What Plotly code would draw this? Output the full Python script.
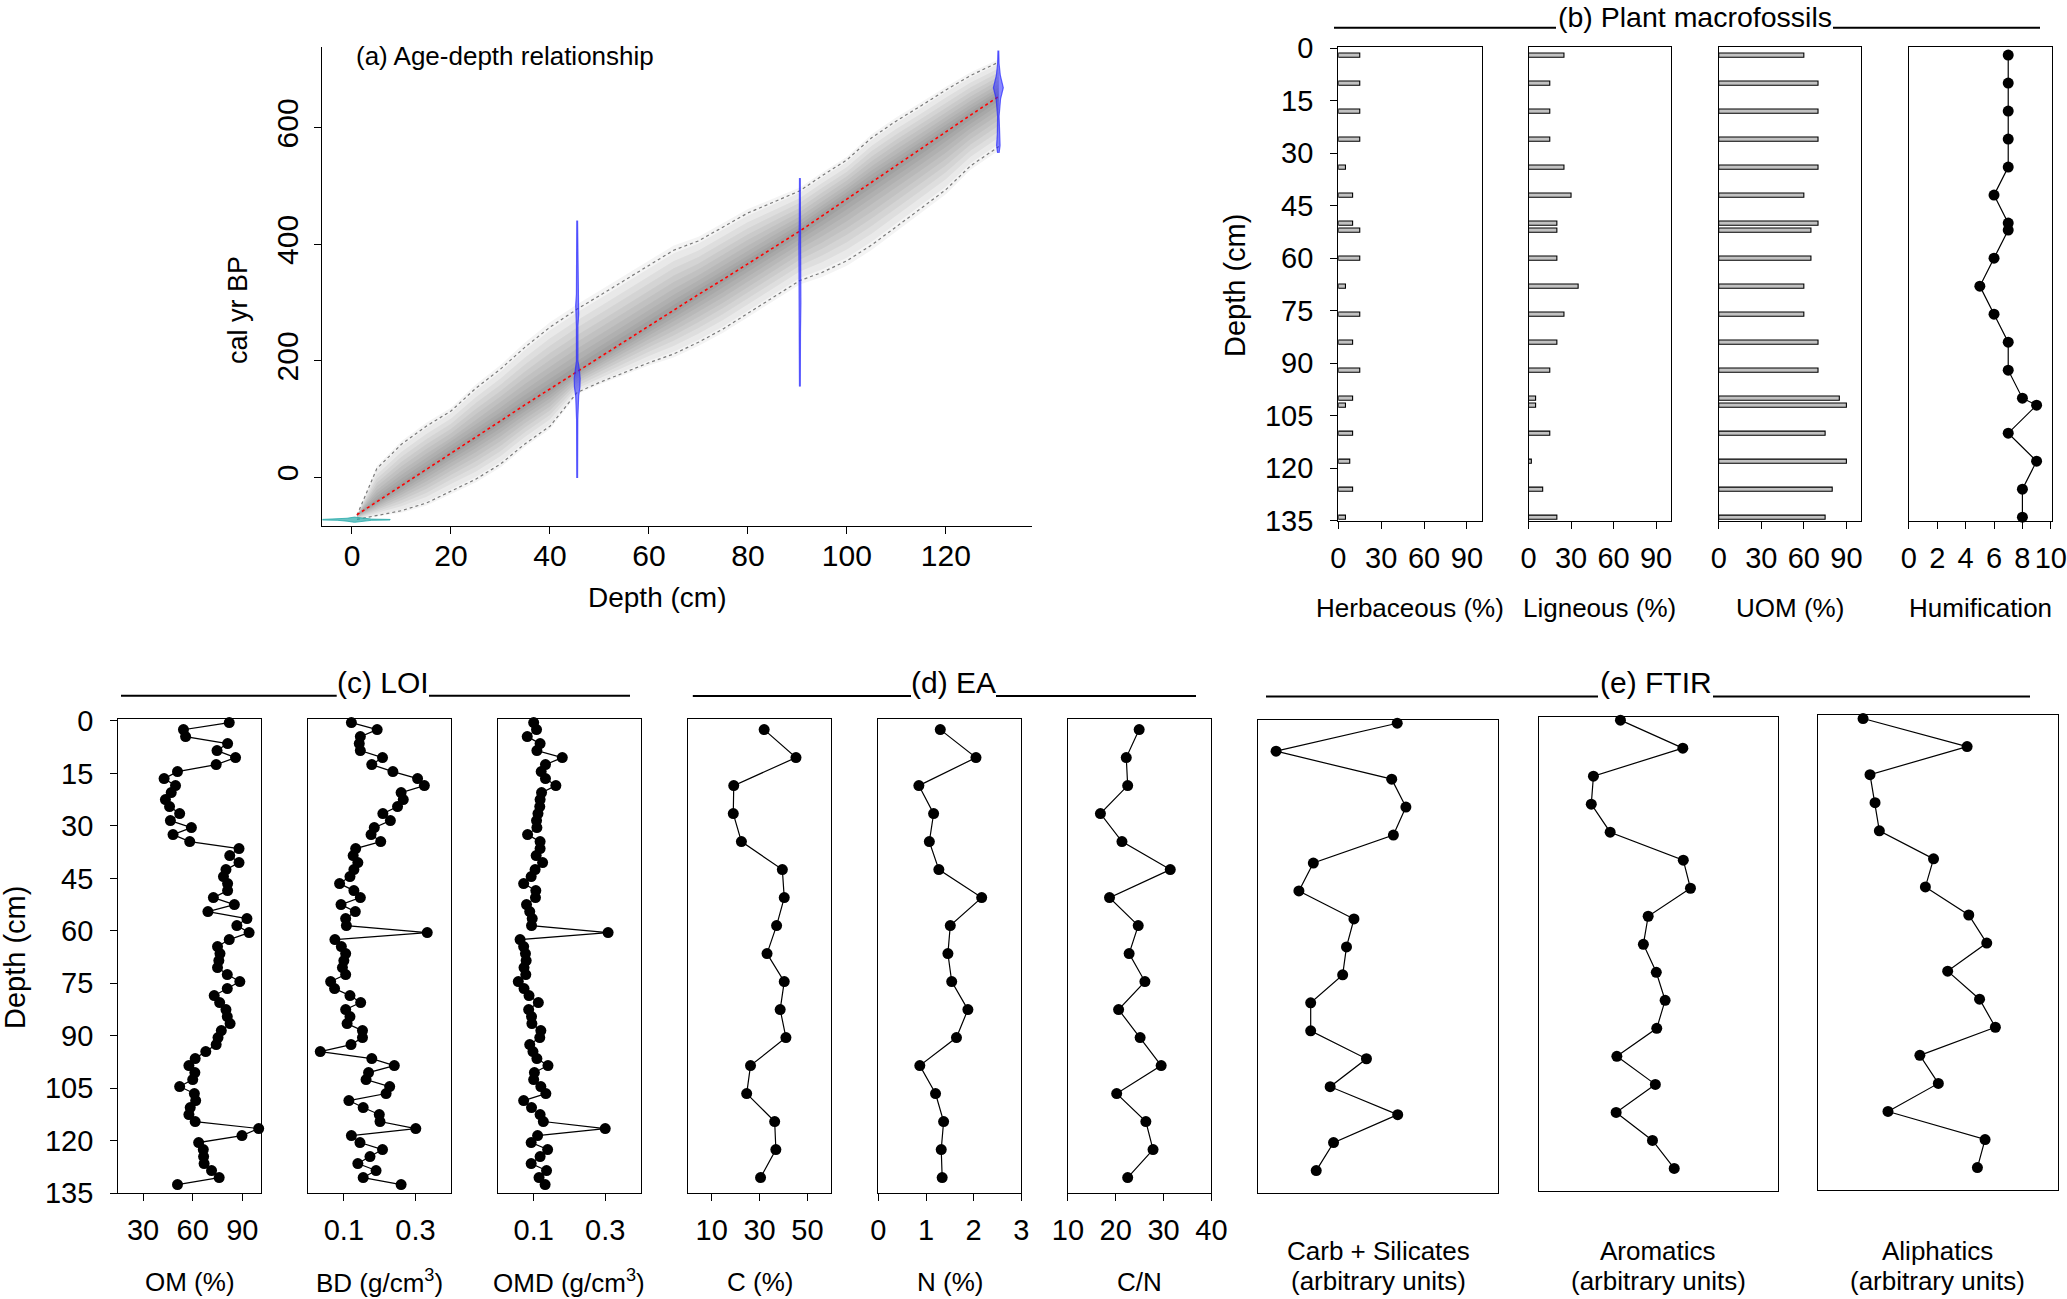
import plotly.graph_objects as go

W, H = 2067, 1299
FONT = "Liberation Sans, Arial, Helvetica, sans-serif"

# ---------- (a) age-depth model ----------
env_depth = [1, 5, 10, 15, 20, 25, 30, 35, 40, 45.5, 50, 55, 60, 65, 70, 75, 80, 85,
             90.5, 95, 100, 105, 110, 115, 120, 125, 130.7]
env_upper = [-65, 15, 57, 88, 114, 153, 186, 224, 258, 289, 312, 338, 364, 390, 406, 430,
             454, 472, 492, 518, 545, 583, 612, 638, 665, 690, 713]
env_lower = [-72, -65, -57, -44, -23, -3, 23, 58, 88, 146, 163, 180, 197, 212, 232, 255,
             282, 308, 338, 352, 372, 399, 430, 462, 494, 535, 568]
median_age = [-64, -42, -14, 14, 42, 69, 97, 125, 152, 183, 207, 233, 260, 287, 314, 340,
              367, 394, 423, 449, 478, 507, 536, 564, 593, 622, 654]

date_depth = [45.5, 90.5, 130.6]
date_age = [[-1, 100, 140, 155, 170, 185, 200, 260, 280, 295, 315, 440],
            [156, 250, 300, 350, 400, 440, 513],
            [557, 570, 590, 620, 650, 669, 690, 710, 732]]
date_halfwidth = [[0.08, 0.12, 0.3, 0.55, 0.6, 0.45, 0.15, 0.15, 0.3, 0.3, 0.15, 0.08],
                  [0.08, 0.12, 0.2, 0.25, 0.2, 0.12, 0.08],
                  [0.15, 0.35, 0.2, 0.15, 0.45, 1.0, 0.4, 0.15, 0.08]]
surface_depth = [-6, -3, -1, 0.5, 2, 4, 7.7]
surface_top = [-72, -71.5, -70, -68, -70, -71.5, -72]
surface_bottom = [-73, -73.5, -75, -77, -75, -73.5, -73]

# ---------- (b) plant macrofossils ----------
macro_depth = [2, 10, 18, 26, 34, 42, 50, 52, 60, 68, 76, 84, 92, 100, 102, 110, 118, 126, 134]
herbaceous = [15, 15, 15, 15, 5, 10, 10, 15, 15, 5, 15, 10, 15, 10, 5, 10, 8, 10, 5]
ligneous = [25, 15, 15, 15, 25, 30, 20, 20, 20, 35, 25, 20, 15, 5, 5, 15, 2, 10, 20]
uom = [60, 70, 70, 70, 70, 60, 70, 65, 65, 60, 60, 70, 70, 85, 90, 75, 90, 80, 75]
humification = [7, 7, 7, 7, 7, 6, 7, 7, 6, 5, 6, 7, 7, 8, 9, 7, 9, 8, 8]

# ---------- (c) LOI ----------
loi_depth = [0.5, 2.5, 4.5, 6.5, 8.5, 10.5, 12.5, 14.5, 16.5, 18.5, 20.5, 22.5, 24.5, 26.5,
             28.5, 30.5, 32.5, 34.5, 36.5, 38.5, 40.5, 42.5, 44.5, 46.5, 48.5, 50.5, 52.5,
             54.5, 56.5, 58.5, 60.5, 62.5, 64.5, 66.5, 68.5, 70.5, 72.5, 74.5, 76.5, 78.5,
             80.5, 82.5, 84.5, 86.5, 88.5, 90.5, 92.5, 94.5, 96.5, 98.5, 100.5, 102.5, 104.5,
             106.5, 108.5, 110.5, 112.5, 114.5, 116.5, 118.5, 120.5, 122.5, 124.5, 126.5,
             128.5, 130.5, 132.5]
om = [82.1, 54.4, 55.7, 81.1, 74.7, 85.9, 74.2, 50.8, 42.7, 49.6, 47.0, 43.5, 46.0, 52.1,
      46.5, 59.2, 48.1, 58.2, 88.0, 82.4, 88.0, 80.1, 78.6, 81.1, 81.1, 72.5, 85.2, 69.2,
      92.8, 86.7, 94.1, 82.1, 75.0, 76.5, 75.8, 75.0, 80.9, 88.5, 80.9, 73.0, 76.3, 80.1,
      80.9, 82.6, 77.3, 75.3, 74.2, 67.9, 61.5, 57.7, 61.3, 60.0, 52.1, 61.0, 61.8, 58.5,
      57.7, 61.5, 99.9, 89.8, 63.6, 66.4, 66.6, 66.9, 71.4, 76.0, 50.8]
bd = [0.121, 0.193, 0.146, 0.143, 0.146, 0.208, 0.178, 0.237, 0.306, 0.325, 0.260, 0.266,
      0.250, 0.209, 0.230, 0.185, 0.176, 0.203, 0.133, 0.126, 0.139, 0.128, 0.117, 0.088,
      0.128, 0.146, 0.092, 0.132, 0.105, 0.107, 0.333, 0.075, 0.093, 0.105, 0.100, 0.096,
      0.105, 0.063, 0.074, 0.117, 0.147, 0.105, 0.117, 0.109, 0.152, 0.152, 0.120, 0.034,
      0.178, 0.241, 0.169, 0.162, 0.228, 0.218, 0.114, 0.154, 0.199, 0.201, 0.301, 0.121,
      0.145, 0.208, 0.173, 0.139, 0.190, 0.154, 0.260]
omd = [0.100, 0.108, 0.082, 0.118, 0.109, 0.180, 0.133, 0.121, 0.133, 0.162, 0.122, 0.118,
       0.117, 0.112, 0.108, 0.109, 0.083, 0.118, 0.118, 0.107, 0.125, 0.104, 0.093, 0.072,
       0.106, 0.105, 0.080, 0.089, 0.096, 0.094, 0.308, 0.062, 0.072, 0.077, 0.079, 0.073,
       0.078, 0.057, 0.073, 0.087, 0.113, 0.086, 0.094, 0.095, 0.120, 0.117, 0.089, 0.098,
       0.109, 0.140, 0.102, 0.100, 0.120, 0.134, 0.072, 0.094, 0.118, 0.127, 0.300, 0.111,
       0.093, 0.139, 0.118, 0.093, 0.136, 0.115, 0.132]

# ---------- (d) EA ----------
ea_depth = [2.5, 10.5, 18.5, 26.5, 34.5, 42.5, 50.5, 58.5, 66.5, 74.5, 82.5, 90.5, 98.5,
            106.5, 114.5, 122.5, 130.5]
carbon = [31.9, 45.2, 19.2, 19.0, 22.4, 39.5, 40.3, 37.1, 33.1, 40.3, 38.6, 41.0, 26.2,
          24.6, 36.3, 36.8, 30.4]
nitrogen = [1.30, 2.05, 0.85, 1.16, 1.07, 1.27, 2.17, 1.51, 1.46, 1.54, 1.88, 1.64, 0.87,
            1.20, 1.37, 1.32, 1.34]
cn_ratio = [24.9, 22.2, 22.5, 16.8, 21.3, 31.4, 18.7, 24.7, 22.8, 26.1, 20.6, 25.1, 29.5,
            20.2, 26.3, 27.8, 22.5]

# ---------- (e) FTIR (arbitrary units) ----------
ftir_depth = [0.5, 8.5, 16.5, 24.5, 32.5, 40.5, 48.5, 56.5, 64.5, 72.5, 80.5, 88.5, 96.5,
              104.5, 112.5, 120.5, 128.5]
carb_silicates = [58.0, 7.6, 55.7, 61.6, 56.4, 23.1, 17.1, 40.0, 36.9, 35.3, 22.0, 22.0,
                  45.2, 30.1, 58.2, 31.5, 24.3]
aromatics = [34.2, 60.3, 22.9, 22.0, 29.9, 60.5, 63.5, 45.8, 43.8, 49.2, 52.9, 49.4, 32.7,
             48.8, 32.4, 47.6, 56.7]
aliphatics = [18.8, 62.2, 21.7, 23.8, 25.6, 48.2, 44.8, 62.9, 70.4, 54.1, 67.4, 74.0, 42.5,
              50.2, 29.2, 69.7, 66.5]


def fx(px):
    return px / W


def fy(py):
    return 1 - py / H


fig = go.Figure()
layout = dict(width=W, height=H, margin=dict(l=0, r=0, t=0, b=0, pad=0, autoexpand=False),
              autosize=False, paper_bgcolor="white", plot_bgcolor="white", showlegend=False,
              font=dict(family=FONT, color="black"))
annotations = []
shapes = []


def add_panel(n, box, xrange, yrange, xticks, yticks=None, xlabels=True, boxed=True,
              xstand=4, ystand=11, fsize=29):
    x0, x1, y0, y1 = box
    common = dict(showgrid=False, zeroline=False, showline=True, linecolor="black",
                  linewidth=1.3, mirror=boxed, tickcolor="black", tickwidth=1.3,
                  automargin=False,
                  tickfont=dict(family=FONT, size=fsize, color="black"))
    xa = dict(common, domain=[fx(x0), fx(x1)], range=xrange, anchor="y%d" % n if n > 1 else "y",
              tickmode="array", tickvals=xticks or [], ticks="outside" if xticks else "",
              ticklen=7, showticklabels=xlabels, tickangle=0, ticklabelstandoff=xstand)
    ya = dict(common, domain=[fy(y1), fy(y0)], range=yrange, anchor="x%d" % n if n > 1 else "x",
              tickmode="array", tickvals=yticks or [], ticks="outside" if yticks else "",
              ticklen=7, showticklabels=bool(yticks), ticklabelstandoff=ystand)
    key = "" if n == 1 else str(n)
    layout["xaxis" + key] = xa
    layout["yaxis" + key] = ya
    return ("x" + key, "y" + key)


def profile(ax, xs, ys):
    fig.add_trace(go.Scatter(x=xs, y=ys, mode="lines+markers", xaxis=ax[0], yaxis=ax[1],
                             line=dict(color="black", width=1.2),
                             marker=dict(color="black", size=11), cliponaxis=False))


def title_bar(left, tleft, tright, right, ly, text, ty, size=30):
    for a, b in ((left, tleft), (tright, right)):
        shapes.append(dict(type="line", xref="paper", yref="paper", x0=fx(a), x1=fx(b),
                           y0=fy(ly), y1=fy(ly), line=dict(color="black", width=2)))
    annotations.append(dict(text=text, x=fx((tleft + tright) / 2), y=fy(ty), xref="paper",
                            yref="paper", showarrow=False, xanchor="center", yanchor="middle",
                            font=dict(family=FONT, size=size, color="black")))


def label(text, px, py, size=26, angle=0, xanchor="center"):
    annotations.append(dict(text=text, x=fx(px), y=fy(py), xref="paper", yref="paper",
                            showarrow=False, xanchor=xanchor, yanchor="middle",
                            textangle=angle, font=dict(family=FONT, size=size, color="black")))


# ---------- panel (a) ----------
ax_a = add_panel(1, (322.3, 1031.5, 46.9, 526), [-6, 137.3], [-83.3, 739],
                 [0, 20, 40, 60, 80, 100, 120], [0, 200, 400, 600], boxed=False,
                 xstand=-4, ystand=4, fsize=30)
layout["yaxis"]["tickangle"] = -90

# grey density cloud as stacked translucent bands around the median
for frac in (1.08, 0.95, 0.82, 0.7, 0.58, 0.47, 0.36, 0.26, 0.17, 0.09):
    up = [m + frac * (u - m) for m, u in zip(median_age, env_upper)]
    lo = [m - frac * (m - l) for m, l in zip(median_age, env_lower)]
    fig.add_trace(go.Scatter(x=env_depth + env_depth[::-1], y=up + lo[::-1], fill="toself",
                             mode="lines", line=dict(width=0), fillcolor="rgba(0,0,0,0.042)",
                             xaxis="x", yaxis="y", hoverinfo="skip"))
for env in (env_upper, env_lower):
    fig.add_trace(go.Scatter(x=env_depth, y=env, mode="lines", xaxis="x", yaxis="y",
                             line=dict(color="#7a7a7a", width=1.2, dash="dot")))
fig.add_trace(go.Scatter(x=env_depth, y=median_age, mode="lines", xaxis="x", yaxis="y",
                         line=dict(color="red", width=1.6, dash="dot")))
for d, ages, hw in zip(date_depth, date_age, date_halfwidth):
    xs = [d - w for w in hw] + [d + w for w in hw[::-1]]
    fig.add_trace(go.Scatter(x=xs, y=ages + ages[::-1], fill="toself", mode="lines",
                             xaxis="x", yaxis="y", fillcolor="rgba(40,40,255,0.55)",
                             line=dict(color="rgba(40,40,255,0.7)", width=1.2)))
fig.add_trace(go.Scatter(x=surface_depth + surface_depth[::-1],
                         y=surface_top + surface_bottom[::-1], fill="toself", mode="lines",
                         xaxis="x", yaxis="y", fillcolor="rgba(40,170,170,0.7)",
                         line=dict(color="rgba(40,170,170,0.8)", width=1)))

label("(a) Age-depth relationship", 353.6, 56.5, size=26, xanchor="left")
label("cal yr BP", 238, 310, size=27, angle=-90)
label("Depth (cm)", 657, 597, size=28)

# ---------- panel (b) ----------
depth_ticks = [0, 15, 30, 45, 60, 75, 90, 105, 120, 135]
yr = [135, -0.45]
top = (46.5, 520.7)
b_boxes = [(1338.3, 1482), (1528.5, 1671), (1718.7, 1861.3), (1908.9, 2051.5)]
b_series = [herbaceous, ligneous, uom]
b_titles = ["Herbaceous (%)", "Ligneous (%)", "UOM (%)", "Humification"]
for i, (x0, x1) in enumerate(b_boxes):
    n = 2 + i
    if i < 3:
        ax = add_panel(n, (x0, x1, *top), [0, 100.5], yr, [0, 30, 60, 90],
                       depth_ticks if i == 0 else None)
        fig.add_trace(go.Bar(y=macro_depth, x=b_series[i], orientation="h", width=1.2,
                             xaxis=ax[0], yaxis=ax[1],
                             marker=dict(color="#c2c2c2", line=dict(color="black", width=1.1))))
    else:
        ax = add_panel(n, (x0, x1, *top), [0, 10.05], yr, [0, 2, 4, 6, 8, 10])
        profile(ax, humification, macro_depth)
    label(b_titles[i], (x0 + x1) / 2, 608)
label("Depth (cm)", 1235, 286, size=29, angle=-90)
title_bar(1334, 1556, 1833, 2040, 27.8, "(b) Plant macrofossils", 17, size=28.5)

# ---------- panels (c) and (d) ----------
bottom = (719.3, 1193.3)
cd_panels = [
    ((118.3, 261), [15, 101.3], [30, 60, 90], om, loi_depth, "OM (%)"),
    ((308.1, 451.2), [0, 0.4], [0.1, 0.3], bd, loi_depth, "BD (g/cm<sup>3</sup>)"),
    ((497.9, 641), [0, 0.4], [0.1, 0.3], omd, loi_depth, "OMD (g/cm<sup>3</sup>)"),
    ((687.8, 831.4), [0, 60], [10, 30, 50], carbon, ea_depth, "C (%)"),
    ((878.4, 1021.2), [0, 3], [0, 1, 2, 3], nitrogen, ea_depth, "N (%)"),
    ((1067.9, 1211.4), [10, 40], [10, 20, 30, 40], cn_ratio, ea_depth, "C/N"),
]
for i, ((x0, x1), xr, xt, vals, dep, name) in enumerate(cd_panels):
    n = 6 + i
    ax = add_panel(n, (x0, x1, *bottom), xr, yr, xt, depth_ticks if i == 0 else None)
    profile(ax, vals, dep)
    label(name, (x0 + x1) / 2, 1281.7)
label("Depth (cm)", 15, 958, size=29, angle=-90)
title_bar(121, 336.7, 429, 630, 695.7, "(c) LOI", 682)
title_bar(692.8, 911, 996, 1196, 696, "(d) EA", 682)

# ---------- panel (e) ----------
e_panels = [
    ((1257.8, 1498.2, 719.9, 1193.3), carb_silicates, "Carb + Silicates"),
    ((1538.7, 1777.7, 716.8, 1191.2), aromatics, "Aromatics"),
    ((1818, 2057.7, 715.2, 1190.4), aliphatics, "Aliphatics"),
]
for i, (box, vals, name) in enumerate(e_panels):
    n = 12 + i
    ax = add_panel(n, box, [0, 100], yr, None, None, xlabels=False)
    profile(ax, vals, ftir_depth)
    cx = (box[0] + box[1]) / 2
    label(name, cx, 1250.7)
    label("(arbitrary units)", cx, 1280.7)
title_bar(1266, 1598, 1713, 2030, 696.6, "(e) FTIR", 682)

layout["annotations"] = annotations
layout["shapes"] = shapes
fig.update_layout(**layout)
fig.write_html("out.html", config={"displayModeBar": False},
               post_script="document.body.style.margin='0px';"
                           "document.body.style.overflow='hidden';")
